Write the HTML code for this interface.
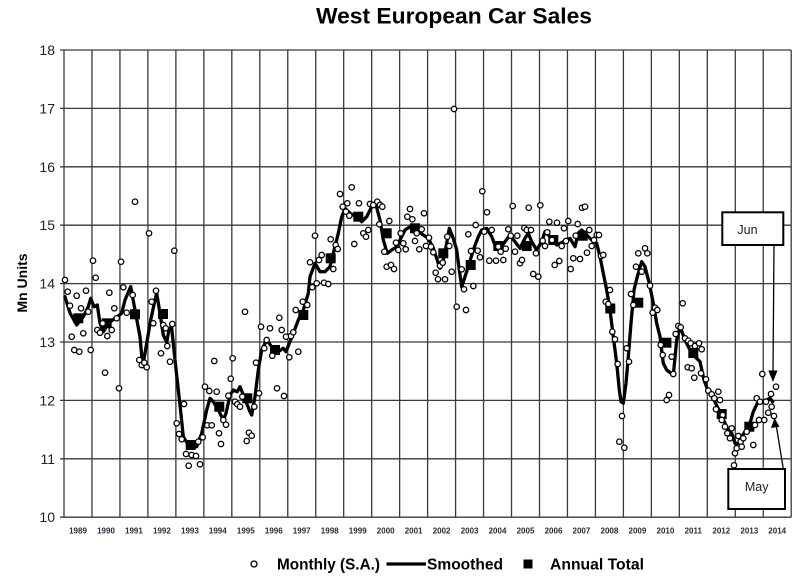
<!DOCTYPE html>
<html><head><meta charset="utf-8"><style>
html,body{margin:0;padding:0;background:#fff;}
svg{display:block;}
</style></head><body>
<svg width="800" height="588" viewBox="0 0 800 588" xmlns="http://www.w3.org/2000/svg" font-family="Liberation Sans, Arial, sans-serif">
<rect width="800" height="588" fill="#fff"/>
<text x="454" y="23.5" font-size="22" font-weight="bold" text-anchor="middle" textLength="276" lengthAdjust="spacingAndGlyphs" fill="#000">West European Car Sales</text>
<g stroke="#3a3a3a" stroke-width="1.3" fill="none">
<path d="M60 50H791.2M60 108.4H791.2M60 166.8H791.2M60 225.2H791.2M60 283.6H791.2M60 342H791.2M60 400.4H791.2M60 458.8H791.2M60 517.2H791.2"/>
<path d="M64 50V517.2M91.97 50V517.2M119.94 50V517.2M147.91 50V517.2M175.88 50V517.2M203.85 50V517.2M231.82 50V517.2M259.79 50V517.2M287.76 50V517.2M315.73 50V517.2M343.7 50V517.2M371.67 50V517.2M399.64 50V517.2M427.61 50V517.2M455.58 50V517.2M483.55 50V517.2M511.52 50V517.2M539.49 50V517.2M567.46 50V517.2M595.43 50V517.2M623.4 50V517.2M651.37 50V517.2M679.34 50V517.2M707.31 50V517.2M735.28 50V517.2M763.25 50V517.2M791.2 50V517.2"/>
</g>
<g font-size="14" fill="#222" text-anchor="end">
<text x="55" y="55">18</text><text x="55" y="113.4">17</text><text x="55" y="171.8">16</text><text x="55" y="230.2">15</text><text x="55" y="288.6">14</text><text x="55" y="347">13</text><text x="55" y="405.4">12</text><text x="55" y="463.8">11</text><text x="55" y="522.2">10</text>
</g>
<text transform="translate(27,283) rotate(-90)" font-size="14" font-weight="bold" text-anchor="middle" fill="#000">Mn Units</text>
<g font-size="8" font-weight="bold" fill="#2a2a3a" text-anchor="middle">
<text x="78" y="533.5">1989</text><text x="106" y="533.5">1990</text><text x="133.9" y="533.5">1991</text><text x="161.9" y="533.5">1992</text><text x="189.9" y="533.5">1993</text><text x="217.8" y="533.5">1994</text><text x="245.8" y="533.5">1995</text><text x="273.8" y="533.5">1996</text><text x="301.7" y="533.5">1997</text><text x="329.7" y="533.5">1998</text><text x="357.7" y="533.5">1999</text><text x="385.7" y="533.5">2000</text><text x="413.6" y="533.5">2001</text><text x="441.6" y="533.5">2002</text><text x="469.6" y="533.5">2003</text><text x="497.5" y="533.5">2004</text><text x="525.5" y="533.5">2005</text><text x="553.5" y="533.5">2006</text><text x="581.4" y="533.5">2007</text><text x="609.4" y="533.5">2008</text><text x="637.4" y="533.5">2009</text><text x="665.4" y="533.5">2010</text><text x="693.3" y="533.5">2011</text><text x="721.3" y="533.5">2012</text><text x="749.3" y="533.5">2013</text><text x="777.2" y="533.5">2014</text>
</g>
<polyline fill="none" stroke="#000" stroke-width="3.3" stroke-linejoin="round" stroke-linecap="round" points="65,296.7 70,313 76.7,325 83.3,316.7 88.3,306.7 90.7,298.3 94,306.7 97.3,305 100,323.3 103.3,331.7 108.3,323.3 115,318.3 121.7,313.3 125,300 130.7,286.7 135,310 140,336.7 142.7,366.7 146.7,343.3 150.7,320 155,300 156.7,293.3 160,313.3 163.3,335 166.7,342 169,330 171.5,326 175,360 180,405 183.3,436.7 188.3,445 196.7,446.7 201.7,433.3 206.7,410 210,398.3 213.3,401.7 218.3,410 223.3,420 226,413.3 230,395 233.3,390 237.3,391.7 240,386.7 243.3,395 250,411.7 251.7,415 255,396.7 258.3,370 261.7,350 266.7,340 271.7,346.7 278.3,351.7 283.3,348.3 286,351.7 289.3,343.3 293.3,333.3 298.3,320 303.3,310 308.3,293.3 310,276.7 315,263.3 320,271.7 325,271.7 330,266.7 333.3,253.3 338.3,233.3 341.7,216.7 345,208.3 350,213.3 356.7,216.7 361.7,221.7 366.7,216.7 371.7,206.7 376,205 380,220 383.3,240 387.3,253.3 391.7,250 396.7,246.7 400,240 405,230 410,226.7 416.7,230 423.3,235 428.3,238.3 433.3,248.3 440,268.3 443.3,260 446.7,243.3 449.3,228.3 452.7,236.7 456.7,250 459.3,270 461.7,286.7 465,276.7 468.3,266.7 473.3,250 478.3,236.7 481.7,230 486.7,228.3 491.7,236.7 495,245 500,248.3 505,241.7 510,235 515,241.7 520,248.3 525,238.3 528.3,233.3 531.7,241.7 536.7,250 541.7,241.7 545,231.7 550,236.7 556.7,245 563.3,241.7 570,238.3 575,246.7 578.3,233.3 581.7,230 586.7,235 591.7,240 596.7,243.3 600,256.7 603.3,273.3 606.7,290 610,310 613.3,336.7 616.7,363.3 619.3,390 621,401.7 623.3,403.3 626,383.3 628.3,356.7 631,323.3 634,290 637.3,276.7 641.7,261.7 645,266.7 649.3,283.3 653.3,303.3 656.7,323.3 660,336.7 663.3,363.3 666.7,370 673.3,375 676.7,340 680,326.7 685,340 690,350 695,356.7 700,361.7 704,380 708.3,391.7 713.3,398.3 717.3,406.7 720.7,413.3 725,423.3 728.3,430 731.7,433.3 735,443.3 738.3,443.3 741.7,436.7 746,430 750,423.3 753.3,411.7 757.3,403.3 761.7,401.7 766,400 770,398.3 772.7,401.7"/>
<g fill="#000">
<rect x="73.3" y="313.3" width="10" height="10"/><rect x="101.7" y="318.3" width="10" height="10"/><rect x="130" y="309.3" width="10" height="10"/><rect x="158" y="309" width="10" height="10"/><rect x="185.7" y="440" width="10" height="10"/><rect x="214.3" y="401.7" width="10" height="10"/><rect x="242.3" y="393.3" width="10" height="10"/><rect x="270" y="345" width="10" height="10"/><rect x="298.3" y="310" width="10" height="10"/><rect x="325.7" y="253.3" width="10" height="10"/><rect x="353.3" y="211.7" width="10" height="10"/><rect x="381.7" y="228.3" width="10" height="10"/><rect x="410" y="223.3" width="10" height="10"/><rect x="438.3" y="248.3" width="10" height="10"/><rect x="465.7" y="260" width="10" height="10"/><rect x="493.3" y="241" width="10" height="10"/><rect x="521.7" y="241" width="10" height="10"/><rect x="548.3" y="235" width="10" height="10"/><rect x="577.7" y="230.7" width="10" height="10"/><rect x="605.3" y="303.5" width="10" height="10"/><rect x="633.3" y="297.7" width="10" height="10"/><rect x="661.4" y="337.7" width="10" height="10"/><rect x="688.3" y="348" width="10" height="10"/><rect x="716.7" y="409" width="10" height="10"/><rect x="744.3" y="421.7" width="10" height="10"/>
</g>
<g fill="#fff" stroke="#000" stroke-width="1.3">
<circle cx="65" cy="280" r="2.7"/><circle cx="67.7" cy="291.7" r="2.7"/><circle cx="70" cy="305.7" r="2.7"/><circle cx="71.7" cy="336.7" r="2.7"/><circle cx="74.3" cy="350" r="2.7"/><circle cx="76.7" cy="295.7" r="2.7"/><circle cx="79.3" cy="351.7" r="2.7"/><circle cx="81" cy="308.3" r="2.7"/><circle cx="83.3" cy="333.3" r="2.7"/><circle cx="86" cy="290.7" r="2.7"/><circle cx="88.3" cy="311.7" r="2.7"/><circle cx="90.7" cy="350" r="2.7"/><circle cx="93" cy="260.7" r="2.7"/><circle cx="95.7" cy="277.7" r="2.7"/><circle cx="97.3" cy="330" r="2.7"/><circle cx="100" cy="332.7" r="2.7"/><circle cx="102.7" cy="323.3" r="2.7"/><circle cx="105" cy="372.7" r="2.7"/><circle cx="107.3" cy="336" r="2.7"/><circle cx="109.3" cy="292.7" r="2.7"/><circle cx="111.7" cy="330" r="2.7"/><circle cx="114.3" cy="308.3" r="2.7"/><circle cx="116.7" cy="318.3" r="2.7"/><circle cx="119" cy="388.3" r="2.7"/><circle cx="121" cy="261.7" r="2.7"/><circle cx="123.3" cy="287.3" r="2.7"/><circle cx="126.7" cy="312.7" r="2.7"/><circle cx="132.7" cy="295" r="2.7"/><circle cx="135" cy="201.7" r="2.7"/><circle cx="139.3" cy="360" r="2.7"/><circle cx="141.7" cy="365" r="2.7"/><circle cx="144.3" cy="362.7" r="2.7"/><circle cx="146.7" cy="367.3" r="2.7"/><circle cx="149" cy="233.3" r="2.7"/><circle cx="174.3" cy="250.7" r="2.7"/>
<circle cx="151.7" cy="301.7" r="2.7"/><circle cx="156" cy="290.7" r="2.7"/><circle cx="153.3" cy="323.3" r="2.7"/><circle cx="163.3" cy="325" r="2.7"/><circle cx="165.7" cy="328.3" r="2.7"/><circle cx="161" cy="353.3" r="2.7"/><circle cx="167.3" cy="346" r="2.7"/><circle cx="170" cy="361.7" r="2.7"/><circle cx="172.3" cy="324" r="2.7"/><circle cx="184" cy="404" r="2.7"/><circle cx="176.7" cy="423.3" r="2.7"/><circle cx="179" cy="434" r="2.7"/><circle cx="181.7" cy="439.3" r="2.7"/><circle cx="186" cy="454" r="2.7"/><circle cx="188.7" cy="465.7" r="2.7"/><circle cx="191.7" cy="455" r="2.7"/><circle cx="196" cy="456" r="2.7"/><circle cx="200" cy="464.3" r="2.7"/><circle cx="198.3" cy="441.7" r="2.7"/><circle cx="202.7" cy="437.3" r="2.7"/><circle cx="205" cy="386.7" r="2.7"/><circle cx="207.3" cy="425.3" r="2.7"/><circle cx="211.7" cy="425.3" r="2.7"/><circle cx="209.3" cy="391" r="2.7"/><circle cx="214.3" cy="361" r="2.7"/><circle cx="216.7" cy="391.7" r="2.7"/><circle cx="219" cy="433.3" r="2.7"/><circle cx="221" cy="444" r="2.7"/><circle cx="223.3" cy="420" r="2.7"/><circle cx="226" cy="424.7" r="2.7"/><circle cx="228.3" cy="395.7" r="2.7"/><circle cx="230.7" cy="378.7" r="2.7"/><circle cx="232.7" cy="358.3" r="2.7"/><circle cx="235" cy="401.7" r="2.7"/><circle cx="237.3" cy="404.3" r="2.7"/><circle cx="240" cy="406.7" r="2.7"/><circle cx="242.3" cy="396.7" r="2.7"/><circle cx="245" cy="311.7" r="2.7"/><circle cx="246.7" cy="441" r="2.7"/><circle cx="249" cy="432.7" r="2.7"/><circle cx="251.7" cy="435.7" r="2.7"/><circle cx="254.3" cy="406.7" r="2.7"/><circle cx="256" cy="362.7" r="2.7"/><circle cx="259" cy="393.3" r="2.7"/><circle cx="261" cy="326.7" r="2.7"/><circle cx="264.3" cy="348.3" r="2.7"/><circle cx="266.7" cy="340" r="2.7"/><circle cx="270" cy="328.3" r="2.7"/><circle cx="272.3" cy="355.7" r="2.7"/><circle cx="277" cy="388.3" r="2.7"/><circle cx="279.3" cy="317.7" r="2.7"/><circle cx="281.7" cy="330" r="2.7"/><circle cx="284" cy="396" r="2.7"/><circle cx="286" cy="336.7" r="2.7"/><circle cx="289.3" cy="357.3" r="2.7"/><circle cx="291" cy="336" r="2.7"/><circle cx="293.3" cy="332.3" r="2.7"/><circle cx="295.7" cy="310" r="2.7"/><circle cx="298.3" cy="351.7" r="2.7"/>
<circle cx="302.7" cy="301.7" r="2.7"/><circle cx="307.3" cy="305" r="2.7"/><circle cx="312.3" cy="287.3" r="2.7"/><circle cx="316.7" cy="283.3" r="2.7"/><circle cx="324" cy="282.7" r="2.7"/><circle cx="328.3" cy="284" r="2.7"/><circle cx="310" cy="262.3" r="2.7"/><circle cx="315" cy="235.7" r="2.7"/><circle cx="319" cy="260" r="2.7"/><circle cx="321.7" cy="255" r="2.7"/><circle cx="330.7" cy="239.3" r="2.7"/><circle cx="333.3" cy="269" r="2.7"/><circle cx="335.7" cy="245" r="2.7"/><circle cx="337.7" cy="249" r="2.7"/><circle cx="340" cy="194" r="2.7"/><circle cx="342.7" cy="206.7" r="2.7"/><circle cx="346" cy="211.7" r="2.7"/><circle cx="347.3" cy="203.3" r="2.7"/><circle cx="349.3" cy="215.7" r="2.7"/><circle cx="351.7" cy="187.3" r="2.7"/><circle cx="354.3" cy="244" r="2.7"/><circle cx="359" cy="203.3" r="2.7"/><circle cx="363.3" cy="233.3" r="2.7"/><circle cx="366" cy="236.7" r="2.7"/><circle cx="368.3" cy="230" r="2.7"/><circle cx="370" cy="204" r="2.7"/><circle cx="373.3" cy="205" r="2.7"/><circle cx="377.3" cy="201.7" r="2.7"/><circle cx="380" cy="205" r="2.7"/><circle cx="382.3" cy="206.7" r="2.7"/><circle cx="379.3" cy="224.3" r="2.7"/><circle cx="389.3" cy="221" r="2.7"/><circle cx="384.3" cy="251.7" r="2.7"/><circle cx="386.7" cy="266.7" r="2.7"/><circle cx="391" cy="265" r="2.7"/><circle cx="394" cy="269" r="2.7"/><circle cx="396" cy="242.7" r="2.7"/><circle cx="398.3" cy="250" r="2.7"/><circle cx="400.7" cy="233.3" r="2.7"/><circle cx="403.3" cy="243.3" r="2.7"/><circle cx="405.7" cy="249.3" r="2.7"/><circle cx="407.3" cy="216.7" r="2.7"/><circle cx="410" cy="209" r="2.7"/><circle cx="412.3" cy="219.3" r="2.7"/><circle cx="415" cy="241" r="2.7"/><circle cx="416.7" cy="233.3" r="2.7"/><circle cx="419.3" cy="249.3" r="2.7"/><circle cx="421.7" cy="229.3" r="2.7"/><circle cx="424" cy="213.3" r="2.7"/><circle cx="426" cy="246" r="2.7"/><circle cx="429" cy="237.7" r="2.7"/><circle cx="431" cy="246.7" r="2.7"/><circle cx="433.3" cy="252.3" r="2.7"/><circle cx="435.7" cy="272.7" r="2.7"/><circle cx="438" cy="279.3" r="2.7"/><circle cx="440" cy="265.7" r="2.7"/><circle cx="442.7" cy="262.7" r="2.7"/><circle cx="445" cy="279.3" r="2.7"/><circle cx="447.3" cy="236.7" r="2.7"/><circle cx="449.3" cy="246" r="2.7"/><circle cx="451.7" cy="271.7" r="2.7"/><circle cx="454" cy="109" r="2.7"/><circle cx="456.7" cy="306.7" r="2.7"/>
<circle cx="461.7" cy="269.3" r="2.7"/><circle cx="464" cy="289.3" r="2.7"/><circle cx="466" cy="310" r="2.7"/><circle cx="468.3" cy="234.3" r="2.7"/><circle cx="471" cy="251" r="2.7"/><circle cx="473.3" cy="286" r="2.7"/><circle cx="475.7" cy="225" r="2.7"/><circle cx="477.7" cy="250.7" r="2.7"/><circle cx="480" cy="257.3" r="2.7"/><circle cx="482.3" cy="191.3" r="2.7"/><circle cx="484.3" cy="231.7" r="2.7"/><circle cx="487" cy="212.3" r="2.7"/><circle cx="489.3" cy="260.7" r="2.7"/><circle cx="491.7" cy="230" r="2.7"/><circle cx="496" cy="260.7" r="2.7"/><circle cx="498.3" cy="246.7" r="2.7"/><circle cx="500.7" cy="251.7" r="2.7"/><circle cx="503.3" cy="260" r="2.7"/><circle cx="505.7" cy="248.7" r="2.7"/><circle cx="508.3" cy="229.3" r="2.7"/><circle cx="510.7" cy="235.7" r="2.7"/><circle cx="512.7" cy="206" r="2.7"/><circle cx="515" cy="251.7" r="2.7"/><circle cx="517.3" cy="235.7" r="2.7"/><circle cx="520" cy="263.3" r="2.7"/><circle cx="522" cy="260" r="2.7"/><circle cx="524.3" cy="228" r="2.7"/><circle cx="526.7" cy="230" r="2.7"/><circle cx="528.7" cy="207.7" r="2.7"/><circle cx="531" cy="230" r="2.7"/><circle cx="533.3" cy="274" r="2.7"/><circle cx="536" cy="253.3" r="2.7"/><circle cx="538.3" cy="276.7" r="2.7"/><circle cx="540.3" cy="205.3" r="2.7"/><circle cx="542.7" cy="240.7" r="2.7"/><circle cx="545" cy="246" r="2.7"/><circle cx="547.3" cy="232.3" r="2.7"/><circle cx="549.3" cy="221.7" r="2.7"/><circle cx="552" cy="240" r="2.7"/><circle cx="554.7" cy="265" r="2.7"/><circle cx="557" cy="222.7" r="2.7"/><circle cx="559.3" cy="261" r="2.7"/><circle cx="561.7" cy="246" r="2.7"/><circle cx="564" cy="228.3" r="2.7"/><circle cx="566" cy="241" r="2.7"/><circle cx="568.3" cy="221" r="2.7"/><circle cx="570.7" cy="269" r="2.7"/><circle cx="573.3" cy="258.3" r="2.7"/><circle cx="575.7" cy="235.7" r="2.7"/><circle cx="577.7" cy="224" r="2.7"/><circle cx="580" cy="259" r="2.7"/><circle cx="582" cy="207.7" r="2.7"/><circle cx="585" cy="206.7" r="2.7"/><circle cx="587" cy="252.7" r="2.7"/><circle cx="589.3" cy="230" r="2.7"/><circle cx="591.7" cy="246" r="2.7"/><circle cx="594" cy="240" r="2.7"/><circle cx="596.7" cy="235" r="2.7"/><circle cx="599" cy="235" r="2.7"/>
<circle cx="601" cy="256" r="2.7"/><circle cx="603.3" cy="255" r="2.7"/><circle cx="610" cy="290" r="2.7"/><circle cx="605.7" cy="301.7" r="2.7"/><circle cx="608.3" cy="304" r="2.7"/><circle cx="612.3" cy="331.7" r="2.7"/><circle cx="615" cy="339.3" r="2.7"/><circle cx="617.7" cy="364" r="2.7"/><circle cx="622" cy="416" r="2.7"/><circle cx="619.3" cy="441.7" r="2.7"/><circle cx="624.3" cy="447.7" r="2.7"/><circle cx="626.7" cy="348.3" r="2.7"/><circle cx="629" cy="361.7" r="2.7"/><circle cx="631" cy="294" r="2.7"/><circle cx="633.3" cy="305" r="2.7"/><circle cx="636" cy="266.7" r="2.7"/><circle cx="638.3" cy="253.3" r="2.7"/><circle cx="641.7" cy="271.7" r="2.7"/><circle cx="645" cy="248.3" r="2.7"/><circle cx="647.3" cy="253.3" r="2.7"/><circle cx="650" cy="285.7" r="2.7"/><circle cx="652.7" cy="312.7" r="2.7"/><circle cx="655" cy="307.7" r="2.7"/><circle cx="657.3" cy="310" r="2.7"/><circle cx="682.7" cy="303.3" r="2.7"/>
<circle cx="660.7" cy="345" r="2.7"/><circle cx="662.7" cy="355" r="2.7"/><circle cx="671.7" cy="356.7" r="2.7"/><circle cx="673.3" cy="374" r="2.7"/><circle cx="666.7" cy="400" r="2.7"/><circle cx="669" cy="395" r="2.7"/><circle cx="675.7" cy="334" r="2.7"/><circle cx="678.3" cy="326" r="2.7"/><circle cx="680.7" cy="327.3" r="2.7"/><circle cx="685" cy="338.3" r="2.7"/><circle cx="688.3" cy="340.7" r="2.7"/><circle cx="690.7" cy="343.3" r="2.7"/><circle cx="695" cy="346" r="2.7"/><circle cx="699" cy="343.3" r="2.7"/><circle cx="701.7" cy="349.3" r="2.7"/><circle cx="687.7" cy="367.3" r="2.7"/><circle cx="691.7" cy="368.3" r="2.7"/><circle cx="701" cy="373.3" r="2.7"/><circle cx="694.3" cy="377.7" r="2.7"/><circle cx="706" cy="379.3" r="2.7"/><circle cx="708.3" cy="390.7" r="2.7"/><circle cx="711.7" cy="394.3" r="2.7"/><circle cx="714.3" cy="398.3" r="2.7"/><circle cx="718.3" cy="391.7" r="2.7"/><circle cx="720" cy="400" r="2.7"/><circle cx="716" cy="409.3" r="2.7"/><circle cx="722.7" cy="415" r="2.7"/><circle cx="721.7" cy="420" r="2.7"/><circle cx="725" cy="426.7" r="2.7"/><circle cx="727.3" cy="433.3" r="2.7"/><circle cx="731.7" cy="428.3" r="2.7"/><circle cx="730" cy="438.3" r="2.7"/><circle cx="735" cy="453.3" r="2.7"/><circle cx="734" cy="465.3" r="2.7"/><circle cx="736.7" cy="448.3" r="2.7"/><circle cx="738.3" cy="436" r="2.7"/><circle cx="740.7" cy="441.7" r="2.7"/><circle cx="741.7" cy="446.7" r="2.7"/><circle cx="743.3" cy="438.3" r="2.7"/><circle cx="746.7" cy="431.7" r="2.7"/><circle cx="753.3" cy="445" r="2.7"/><circle cx="755" cy="425" r="2.7"/><circle cx="756.7" cy="398.3" r="2.7"/><circle cx="759" cy="420" r="2.7"/><circle cx="760" cy="401.7" r="2.7"/><circle cx="762.3" cy="374" r="2.7"/><circle cx="764.3" cy="420" r="2.7"/><circle cx="766" cy="401.7" r="2.7"/><circle cx="768.3" cy="412.7" r="2.7"/><circle cx="771" cy="394" r="2.7"/><circle cx="774" cy="416" r="2.7"/><circle cx="776" cy="386.7" r="2.7"/><circle cx="771.7" cy="406.7" r="2.7"/>
</g>
<!-- Jun annotation -->
<rect x="722.3" y="212.3" width="61" height="32.7" fill="#fff" stroke="#000" stroke-width="2"/>
<text x="747.5" y="234" font-size="12.5" text-anchor="middle" fill="#1c1c2c">Jun</text>
<line x1="774" y1="245" x2="773" y2="372" stroke="#000" stroke-width="1.3"/>
<polygon points="768.3,370.5 777.5,370.5 773,382" fill="#000"/>
<!-- May annotation -->
<rect x="728.3" y="469" width="56.7" height="40" fill="#fff" stroke="#000" stroke-width="2"/>
<text x="756.7" y="491" font-size="12.5" text-anchor="middle" fill="#1c1c2c">May</text>
<line x1="783.3" y1="469" x2="776.5" y2="427" stroke="#000" stroke-width="1.3"/>
<polygon points="774.5,418 771,428 779.5,426.8" fill="#000"/>
<!-- Legend -->
<circle cx="254" cy="564" r="3" fill="#fff" stroke="#000" stroke-width="1.3"/>
<text x="277" y="569.3" font-size="15.5" font-weight="bold" textLength="103" lengthAdjust="spacingAndGlyphs" fill="#000">Monthly (S.A.)</text>
<line x1="386.5" y1="564" x2="426" y2="564" stroke="#000" stroke-width="3.3"/>
<text x="427" y="569.3" font-size="15.5" font-weight="bold" textLength="76" lengthAdjust="spacingAndGlyphs" fill="#000">Smoothed</text>
<rect x="523.5" y="559.5" width="9" height="9" fill="#000"/>
<text x="550" y="569.3" font-size="15.5" font-weight="bold" textLength="94" lengthAdjust="spacingAndGlyphs" fill="#000">Annual Total</text>
</svg>
</body></html>
